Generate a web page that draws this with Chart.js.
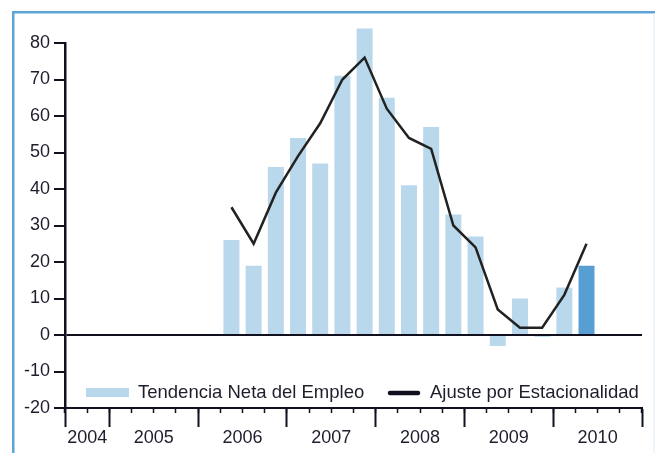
<!DOCTYPE html>
<html>
<head>
<meta charset="utf-8">
<script src="https://cdn.jsdelivr.net/npm/chart.js@4.4.1/dist/chart.umd.min.js"></script>
<style>
  body { margin: 0; background: #fff; }
  canvas { display: block; }
</style>
</head>
<body>
<canvas id="empleoChart" width="655" height="453"></canvas>
<script>
// trimestres desde 2004 T3 hasta 2010 T4
const quarters = [
    '2004 T3', '2004 T4',
    '2005 T1', '2005 T2', '2005 T3', '2005 T4',
    '2006 T1', '2006 T2', '2006 T3', '2006 T4',
    '2007 T1', '2007 T2', '2007 T3', '2007 T4',
    '2008 T1', '2008 T2', '2008 T3', '2008 T4',
    '2009 T1', '2009 T2', '2009 T3', '2009 T4',
    '2010 T1', '2010 T2', '2010 T3', '2010 T4'
];
const tendenciaNeta = [
    null, null, null, null, null, null, null,
    26, 19, 46, 54, 47, 71, 84, 65, 41, 57, 33, 27, -3, 10, -0.5, 13, 19,
    null, null
];
const ajusteEstacional = [
    null, null, null, null, null, null, null,
    35, 25, 39, 49, 58, 70, 76, 62, 54, 51, 30, 24, 7, 2, 2, 11, 25,
    null, null
];
const years = ['2004', '2005', '2006', '2007', '2008', '2009', '2010'];
const yearCenters = [1, 4, 8, 12, 16, 20, 24];      // en unidades de trimestre
const yearBounds = [0, 2, 6, 10, 14, 18, 22, 26];
const yTicks = [-20, -10, 0, 10, 20, 30, 40, 50, 60, 70, 80];

const barLight = '#b9d8ec';
const barDark = '#579fd3';
const ink = '#10101e';
const textColor = '#1e1e2c';

Chart.defaults.font.family = '"Liberation Sans", Arial, Helvetica, sans-serif';
Chart.defaults.color = textColor;

// marco azul y leyenda dentro del área del gráfico
const framePlugin = {
    id: 'frame',
    beforeDraw(chart) {
        const ctx = chart.ctx;
        ctx.save();
        ctx.fillStyle = '#5ea4d6';
        ctx.fillRect(12, 11, 643, 2.5);
        ctx.fillRect(12, 11, 2.5, 442);
        ctx.fillStyle = '#dbeaf5';
        ctx.fillRect(653.5, 13, 1, 440);
        ctx.restore();
    }
};

const legendPlugin = {
    id: 'insideLegend',
    afterDatasetsDraw(chart) {
        const ctx = chart.ctx;
        const bars = chart.data.datasets[1];
        const line = chart.data.datasets[0];
        ctx.save();
        ctx.fillStyle = barLight;
        ctx.fillRect(86, 388, 43, 9);
        ctx.font = '18.5px "Liberation Sans", Arial, sans-serif';
        ctx.fillStyle = textColor;
        ctx.textBaseline = 'middle';
        ctx.fillText(bars.label, 138, 393);
        ctx.strokeStyle = ink;
        ctx.lineWidth = 4.5;
        ctx.lineCap = 'round';
        ctx.beginPath();
        ctx.moveTo(390, 393);
        ctx.lineTo(418, 393);
        ctx.stroke();
        ctx.fillText(line.label, 430, 393);
        ctx.restore();
    }
};

const ctx = document.getElementById('empleoChart').getContext('2d');
new Chart(ctx, {
    type: 'bar',
    data: {
        labels: quarters,
        datasets: [{
            type: 'line',
            label: 'Ajuste por Estacionalidad',
            data: ajusteEstacional,
            borderColor: '#222222',
            borderWidth: 2.5,
            pointRadius: 0,
            tension: 0,
            order: 0
        }, {
            type: 'bar',
            label: 'Tendencia Neta del Empleo',
            data: tendenciaNeta,
            backgroundColor: tendenciaNeta.map((v, i) => i === 23 ? barDark : barLight),
            borderWidth: 0,
            barPercentage: 0.72,
            categoryPercentage: 1,
            clip: false,
            order: 1
        }]
    },
    options: {
        responsive: false,
        animation: false,
        layout: {
            padding: { top: 43, right: 13, left: 0, bottom: 0 }
        },
        plugins: {
            legend: { display: false },
            tooltip: { enabled: false }
        },
        scales: {
            x: {
                type: 'category',
                position: { y: -20 },
                offset: true,
                grid: {
                    offset: true,
                    drawOnChartArea: false,
                    tickLength: 5,
                    tickWidth: 1.5,
                    tickColor: ink
                },
                ticks: { display: false },
                border: { display: false }
            },
            xYears: {
                type: 'linear',
                position: 'bottom',
                min: 0,
                max: 26,
                offset: false,
                afterBuildTicks: (scale) => {
                    const pos = yearBounds.concat(yearCenters).sort((a, b) => a - b);
                    scale.ticks = pos.map(v => ({ value: v }));
                },
                afterFit: (scale) => { scale.height = 45; },
                grid: {
                    offset: false,
                    drawOnChartArea: false,
                    tickLength: 19,
                    tickWidth: 2,
                    tickColor: (c) => yearBounds.includes(c.tick && c.tick.value) ? ink : 'rgba(0,0,0,0)'
                },
                border: { color: ink, width: 2 },
                ticks: {
                    autoSkip: false,
                    maxRotation: 0,
                    minRotation: 0,
                    padding: 0,
                    font: { size: 18 },
                    color: textColor,
                    callback: (value) => {
                        const k = yearCenters.indexOf(value);
                        return k >= 0 ? years[k] : '';
                    }
                }
            },
            y: {
                min: -20,
                max: 80,
                afterBuildTicks: (scale) => {
                    scale.ticks = yTicks.map(v => ({ value: v }));
                },
                afterFit: (scale) => { scale.width = 65; },
                grid: {
                    drawOnChartArea: true,
                    color: (c) => c.tick && c.tick.value === 0 ? ink : 'rgba(0,0,0,0)',
                    lineWidth: 2,
                    tickColor: ink,
                    tickLength: 11,
                    tickWidth: 2
                },
                border: { color: ink, width: 2.5 },
                ticks: {
                    padding: 4,
                    font: { size: 18 },
                    color: textColor
                }
            }
        }
    },
    plugins: [framePlugin, legendPlugin]
});
</script>
</body>
</html>
